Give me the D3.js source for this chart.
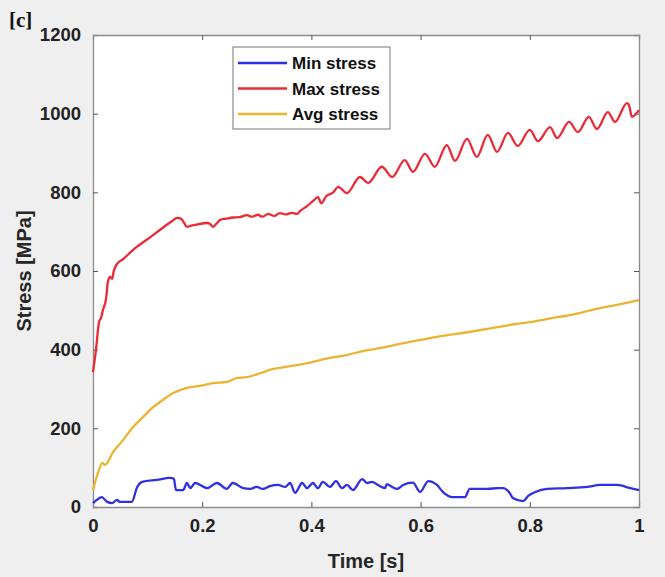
<!DOCTYPE html>
<html>
<head>
<meta charset="utf-8">
<script src="https://cdn.jsdelivr.net/npm/d3@7"></script>
<style>
  html, body { margin: 0; padding: 0; background: #efefef; }
  svg { display: block; }
  text { font-family: "Liberation Sans", Arial, Helvetica, sans-serif; font-weight: bold; fill: #262626; }
</style>
</head>
<body>
<svg id="chart" width="665" height="577"></svg>
<script>
// Minimum stress over time
const minTime = [0, 0.007, 0.016, 0.026, 0.035, 0.044, 0.049, 0.071, 0.081, 0.090, 0.117, 0.141, 0.148, 0.152,
  0.165, 0.172, 0.178, 0.187, 0.209, 0.227, 0.245, 0.256, 0.275, 0.288, 0.300, 0.311, 0.324, 0.339, 0.352,
  0.361, 0.370, 0.383, 0.392, 0.403, 0.412, 0.421, 0.434, 0.445, 0.456, 0.465, 0.476, 0.493, 0.502, 0.511,
  0.522, 0.535, 0.538, 0.548, 0.557, 0.568, 0.586, 0.599, 0.614, 0.630, 0.641, 0.659, 0.681, 0.690, 0.722,
  0.742, 0.751, 0.763, 0.769, 0.788, 0.797, 0.810, 0.832, 0.868, 0.905, 0.929, 0.960, 0.984, 1.0];
const minStress = [10, 18, 25, 13, 10, 18, 13, 13, 51, 64, 69, 74, 72, 43,
  43, 61, 48, 61, 48, 61, 46, 61, 48, 46, 51, 46, 53, 56, 51,
  61, 36, 61, 48, 61, 48, 64, 51, 66, 48, 56, 43, 71, 61, 64,
  56, 48, 58, 51, 46, 56, 62, 38, 66, 56, 38, 25, 25, 46, 46,
  48, 48, 36, 23, 15, 28, 38, 46, 48, 51, 56, 56, 48, 43];

// Maximum stress over time
const maxTime = [0, 0.0055, 0.011, 0.015, 0.018, 0.024, 0.027, 0.031, 0.035, 0.038, 0.044, 0.055, 0.077, 0.099,
  0.123, 0.145, 0.154, 0.161, 0.167, 0.172, 0.179, 0.187, 0.209, 0.214, 0.220, 0.227, 0.233, 0.244, 0.256,
  0.269, 0.282, 0.291, 0.302, 0.310, 0.321, 0.332, 0.342, 0.353, 0.364, 0.374, 0.379, 0.392, 0.403, 0.412,
  0.418, 0.427, 0.440, 0.449, 0.465, 0.489, 0.504, 0.529, 0.548, 0.571, 0.586, 0.608, 0.626, 0.648, 0.663,
  0.685, 0.703, 0.723, 0.740, 0.760, 0.778, 0.800, 0.815, 0.837, 0.850, 0.872, 0.888, 0.908, 0.923, 0.943,
  0.956, 0.978, 0.982, 0.987, 1.0];
const maxStress = [343, 400, 470, 482, 500, 530, 570, 585, 580, 600, 618, 630, 658, 680,
  705, 727, 735, 733, 722, 712, 715, 717, 722, 720, 712, 722, 730, 733, 736,
  737, 742, 738, 743, 738, 745, 740, 747, 744, 748, 745, 752, 765, 778, 788,
  772, 790, 800, 814, 798, 839, 824, 865, 839, 882, 852, 898, 865, 920, 880,
  936, 890, 946, 903, 951, 918, 959, 930, 966, 938, 979, 953, 992, 961, 1004,
  979, 1027, 1020, 992, 1009];

// Average stress over time
const avgTime = [0, 0.009, 0.017, 0.022, 0.037, 0.055, 0.073, 0.092, 0.110, 0.123, 0.147, 0.172, 0.196, 0.220,
  0.245, 0.264, 0.282, 0.306, 0.330, 0.342, 0.37, 0.40, 0.43, 0.46, 0.50, 0.53, 0.56, 0.60, 0.64, 0.68,
  0.72, 0.76, 0.80, 0.84, 0.88, 0.92, 0.96, 1.0];
const avgStress = [43, 86, 112, 107, 140, 170, 203, 229, 254, 267, 290, 303, 308, 315,
  318, 328, 330, 340, 351, 354, 360, 368, 378, 385, 398, 405, 414, 425, 435, 443,
  452, 462, 470, 480, 490, 503, 514, 526];

const xTicks = [0, 0.2, 0.4, 0.6, 0.8, 1];
const xTickLabels = ["0", "0.2", "0.4", "0.6", "0.8", "1"];
const yTicks = [0, 200, 400, 600, 800, 1000, 1200];
const yTickLabels = ["0", "200", "400", "600", "800", "1000", "1200"];

const seriesNames = ["Min stress", "Max stress", "Avg stress"];
const seriesColors = ["#2f2fe6", "#ec2a36", "#eab431"];

const svg = d3.select("#chart");
const margin = { left: 93, top: 35, right: 26, bottom: 70 };
const W = 665, H = 577;
const pw = W - margin.left - margin.right;
const ph = H - margin.top - margin.bottom;

const x = d3.scaleLinear().domain([0, 1]).range([margin.left, margin.left + pw]);
const y = d3.scaleLinear().domain([0, 1200]).range([margin.top + ph, margin.top]);

// plot background
svg.append("rect")
  .attr("x", margin.left).attr("y", margin.top)
  .attr("width", pw).attr("height", ph)
  .attr("fill", "#ffffff");

const axisColor = "#8c8c8c";

// axes with inward ticks on all four sides
const axBottom = svg.append("g").attr("transform", `translate(0,${margin.top + ph})`)
  .call(d3.axisBottom(x).tickValues(xTicks).tickSize(-5).tickPadding(12)
    .tickFormat((d, i) => xTickLabels[i]));
const axTop = svg.append("g").attr("transform", `translate(0,${margin.top})`)
  .call(d3.axisTop(x).tickValues(xTicks).tickSize(-5).tickFormat(""));
const axLeft = svg.append("g").attr("transform", `translate(${margin.left},0)`)
  .call(d3.axisLeft(y).tickValues(yTicks).tickSize(-5).tickPadding(12)
    .tickFormat((d, i) => yTickLabels[i]));
const axRight = svg.append("g").attr("transform", `translate(${margin.left + pw},0)`)
  .call(d3.axisRight(y).tickValues(yTicks).tickSize(-5).tickFormat(""));

[axBottom, axTop, axLeft, axRight].forEach(g => {
  g.select(".domain").attr("stroke", axisColor).attr("stroke-width", 1.3);
  g.selectAll(".tick line").attr("stroke", "#555").attr("stroke-width", 1);
  g.selectAll("text").style("font-size", "18.5px").style("font-weight", "bold")
    .style("fill", "#222").style("font-family", "'Liberation Sans', Arial, sans-serif");
});
// drop the end ticks that coincide with the box edges
axBottom.selectAll(".tick line").filter(d => d === 0 || d === 1).remove();
axTop.selectAll(".tick line").filter(d => d === 0 || d === 1).remove();
axLeft.selectAll(".tick line").filter(d => d === 0 || d === 1200).remove();
axRight.selectAll(".tick line").filter(d => d === 0 || d === 1200).remove();

// data lines, smoothed between samples
const line = d3.line().curve(d3.curveMonotoneX).x(d => x(d[0])).y(d => y(d[1]));
const series = [
  d3.zip(minTime, minStress),
  d3.zip(maxTime, maxStress),
  d3.zip(avgTime, avgStress)
];
const lines = svg.append("g");
[2, 0, 1].forEach(i => {
  lines.append("path")
    .datum(series[i])
    .attr("fill", "none")
    .attr("stroke", seriesColors[i])
    .attr("stroke-width", 2.3)
    .attr("stroke-linejoin", "round")
    .attr("d", line);
});

// axis titles
svg.append("text")
  .attr("x", margin.left + pw / 2).attr("y", 568)
  .attr("text-anchor", "middle").style("font-size", "20px")
  .text("Time [s]");
svg.append("text")
  .attr("transform", `translate(31,${margin.top + ph / 2}) rotate(-90)`)
  .attr("text-anchor", "middle").style("font-size", "20px")
  .text("Stress [MPa]");

// panel label
svg.append("text")
  .attr("x", 9).attr("y", 27)
  .style("font-family", "'Liberation Serif', 'Times New Roman', serif")
  .style("font-size", "21px").style("font-weight", "bold")
  .style("fill", "#111")
  .text("[c]");

// legend
const lg = svg.append("g").attr("transform", "translate(233,47)");
lg.append("rect").attr("width", 157).attr("height", 82)
  .attr("fill", "#ffffff").attr("stroke", "#8c8c8c").attr("stroke-width", 1.2);
seriesNames.forEach((name, i) => {
  const yy = 16 + i * 25.5;
  lg.append("line").attr("x1", 5).attr("x2", 54).attr("y1", yy).attr("y2", yy)
    .attr("stroke", seriesColors[i]).attr("stroke-width", 2.3);
  lg.append("text").attr("x", 59).attr("y", yy + 6)
    .style("font-size", "17px").style("fill", "#111").text(name);
});
</script>
</body>
</html>
